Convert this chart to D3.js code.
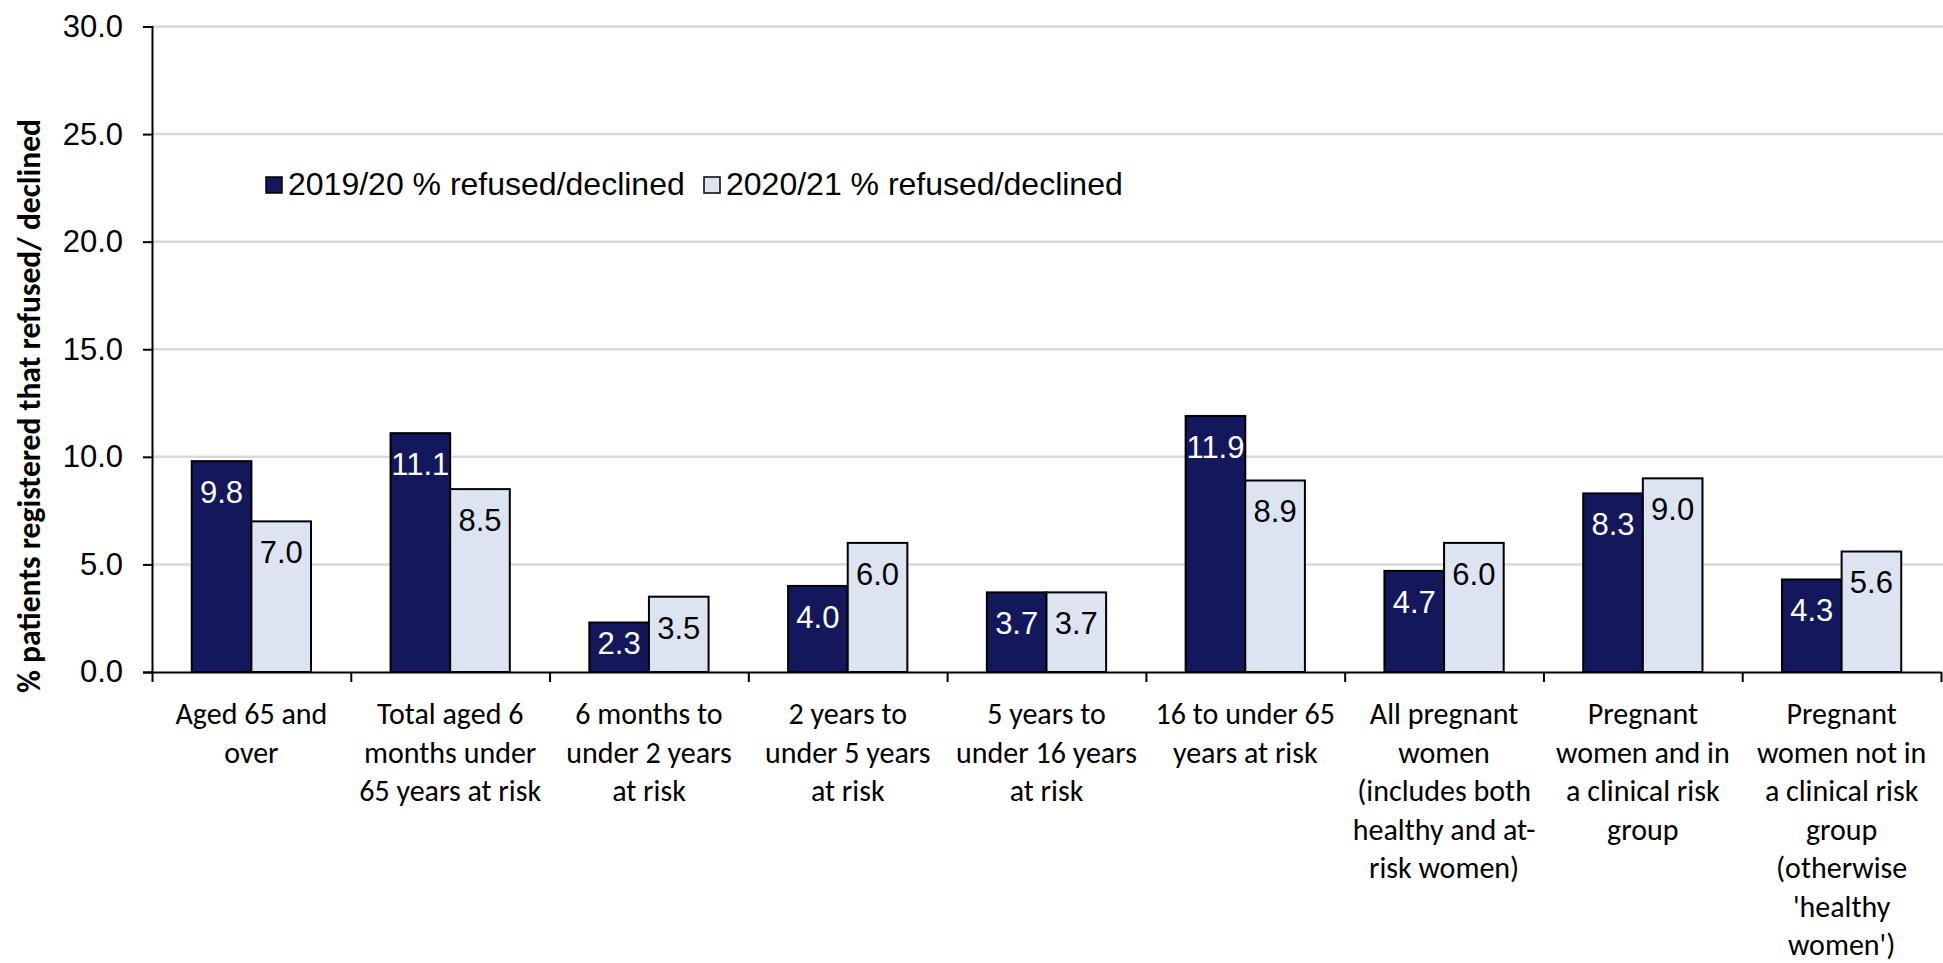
<!DOCTYPE html>
<html>
<head>
<meta charset="utf-8">
<script src="https://cdn.jsdelivr.net/npm/d3@7"></script>
<style>
  html, body { margin: 0; padding: 0; background: #ffffff; }
  svg { display: block; }
</style>
</head>
<body>
<svg id="chart" width="1943" height="963"></svg>
<script>
// chart data
const categories = [
  ["Aged 65 and", "over"],
  ["Total aged 6", "months under", "65 years at risk"],
  ["6 months to", "under 2 years", "at risk"],
  ["2 years to", "under 5 years", "at risk"],
  ["5 years to", "under 16 years", "at risk"],
  ["16 to under 65", "years at risk"],
  ["All pregnant", "women", "(includes both", "healthy and at-", "risk women)"],
  ["Pregnant", "women and in", "a clinical risk", "group"],
  ["Pregnant", "women not in", "a clinical risk", "group", "(otherwise", "'healthy", "women')"]
];
const seriesNames = ["2019/20 % refused/declined", "2020/21 % refused/declined"];
const values2019 = [9.8, 11.1, 2.3, 4.0, 3.7, 11.9, 4.7, 8.3, 4.3];
const values2020 = [7.0, 8.5, 3.5, 6.0, 3.7, 8.9, 6.0, 9.0, 5.6];
const yTicks = [0, 5, 10, 15, 20, 25, 30];
const yTitle = "% patients registered that refused/ declined";

const colors = ["#13175b", "#dde4f1"];
const labelColors = ["#ffffff", "#000000"];
const arial = "'Liberation Sans', Arial, sans-serif";
const calibri = "Carlito, Calibri, Lato, sans-serif";

const svg = d3.select('#chart');
const plotLeft = 152, plotRight = 1941, plotTop = 26.5, plotBottom = 672;

const idx = d3.range(categories.length);
const x0 = d3.scaleBand().domain(idx).range([plotLeft, plotRight]).padding(0);
const x1 = d3.scaleBand().domain([0, 1])
  .range([x0.bandwidth() * 0.2, x0.bandwidth() * 0.8]).padding(0);
const y = d3.scaleLinear().domain([0, 30]).range([plotBottom, plotTop]);
const xTickScale = d3.scaleLinear().domain([0, categories.length]).range([plotLeft, plotRight]);

// gridlines
svg.append('g')
  .selectAll('line')
  .data(yTicks.filter(d => d > 0))
  .enter()
  .append('line')
  .attr('x1', plotLeft).attr('x2', 1943)
  .attr('y1', d => y(d)).attr('y2', d => y(d))
  .attr('stroke', '#d9d9d9')
  .attr('stroke-width', 2.5);

// bars
const rows = idx.map(i => [values2019[i], values2020[i]]);
const groups = svg.append('g')
  .selectAll('g')
  .data(rows)
  .enter()
  .append('g')
  .attr('transform', (d, i) => `translate(${x0(i)},0)`);

groups.selectAll('rect')
  .data(d => d.map((v, s) => ({ v, s })))
  .enter()
  .append('rect')
  .attr('x', d => x1(d.s))
  .attr('y', d => y(d.v))
  .attr('width', x1.bandwidth())
  .attr('height', d => y(0) - y(d.v))
  .attr('fill', d => colors[d.s])
  .attr('stroke', '#000')
  .attr('stroke-width', 2);

// value labels, inside end
groups.selectAll('text')
  .data(d => d.map((v, s) => ({ v, s })))
  .enter()
  .append('text')
  .attr('x', d => x1(d.s) + x1.bandwidth() / 2)
  .attr('y', d => Math.min(y(d.v) + 31, (y(d.v) + y(0)) / 2 - 4))
  .attr('dy', '0.35em')
  .attr('text-anchor', 'middle')
  .attr('font-family', arial)
  .attr('font-size', 31)
  .attr('fill', d => labelColors[d.s])
  .text(d => d3.format('.1f')(d.v));

// y axis
const yAxis = svg.append('g')
  .attr('transform', `translate(${plotLeft},0)`)
  .call(d3.axisLeft(y).tickValues(yTicks).tickFormat(d3.format('.1f')).tickSize(9).tickPadding(20));
yAxis.select('.domain').attr('stroke', '#000').attr('stroke-width', 2);
yAxis.selectAll('.tick line').attr('stroke', '#000').attr('stroke-width', 2);
yAxis.selectAll('.tick text')
  .attr('font-family', arial)
  .attr('font-size', 31)
  .attr('fill', '#000');

// x axis (boundary ticks)
const xAxis = svg.append('g')
  .attr('transform', `translate(0,${plotBottom})`)
  .call(d3.axisBottom(xTickScale).tickValues(d3.range(categories.length + 1)).tickFormat('').tickSize(10).tickSizeOuter(0));
xAxis.select('.domain').attr('stroke', '#000').attr('stroke-width', 2);
xAxis.selectAll('.tick line').attr('stroke', '#000').attr('stroke-width', 2);

// category labels
const catLabels = svg.append('g')
  .selectAll('text')
  .data(categories)
  .enter()
  .append('text')
  .attr('text-anchor', 'middle')
  .attr('font-family', calibri)
  .attr('font-size', 30)
  .attr('fill', '#000')
  .attr('transform', (d, i) => `translate(${x0(i) + x0.bandwidth() / 2},724)`);
catLabels.selectAll('tspan')
  .data(d => d)
  .enter()
  .append('tspan')
  .attr('x', 0)
  .attr('y', (d, j) => j * 38.5)
  .text(d => d);

// y axis title
svg.append('text')
  .attr('transform', 'translate(40,406) rotate(-90)')
  .attr('text-anchor', 'middle')
  .attr('font-family', calibri)
  .attr('font-weight', 'bold')
  .attr('font-size', 31.5)
  .attr('fill', '#000')
  .text(yTitle);

// legend
const legendX = [266, 704];
const legend = svg.append('g')
  .selectAll('g')
  .data(seriesNames)
  .enter()
  .append('g')
  .attr('transform', (d, i) => `translate(${legendX[i]},177)`);
legend.append('rect')
  .attr('width', 16).attr('height', 16)
  .attr('fill', (d, i) => colors[i])
  .attr('stroke', '#000')
  .attr('stroke-width', 1.5);
legend.append('text')
  .attr('x', 22)
  .attr('y', 18)
  .attr('font-family', arial)
  .attr('font-size', 32)
  .attr('fill', '#000')
  .text(d => d);
</script>
</body>
</html>
